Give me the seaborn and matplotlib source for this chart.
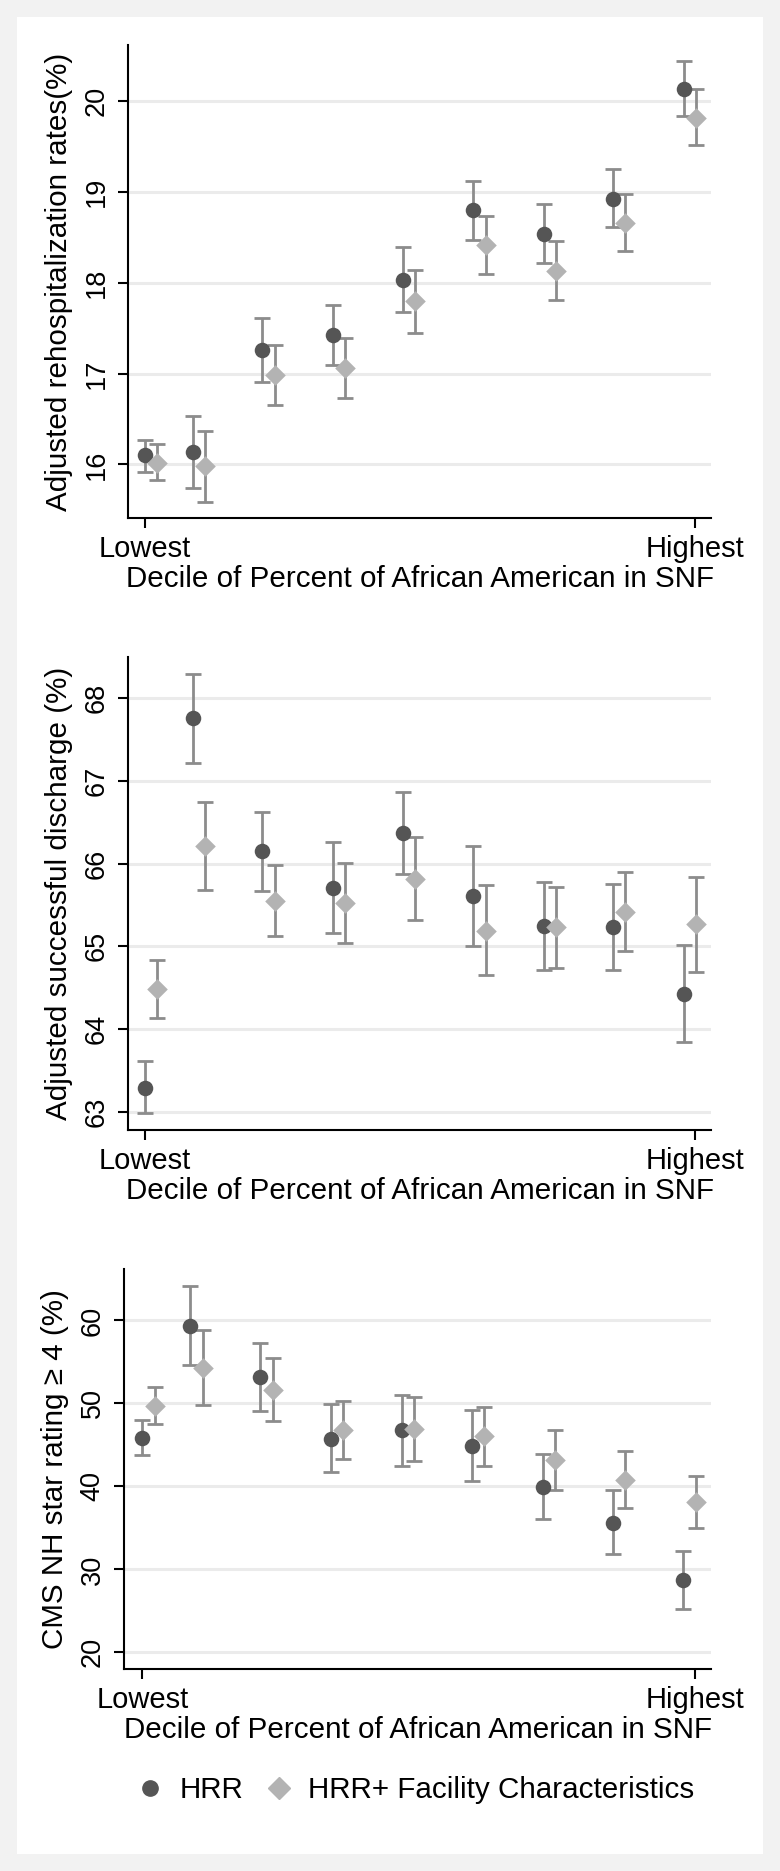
import numpy as np
import pandas as pd
import matplotlib
matplotlib.use("Agg")
import matplotlib.pyplot as plt
import seaborn as sns
from matplotlib.lines import Line2D
from matplotlib.patches import Rectangle

# group positions on the decile axis (Lowest = 1, Highest = 10)
decile_x = [1.0, 1.78, 2.92, 4.07, 5.22, 6.37, 7.52, 8.66, 9.81]
offset = 0.2

# rehospitalization
rehosp_hrr = [16.10, 16.14, 17.26, 17.43, 18.03, 18.80, 18.54, 18.92, 20.14]
rehosp_hrr_lo = [15.92, 15.74, 16.91, 17.09, 17.68, 18.47, 18.22, 18.61, 19.84]
rehosp_hrr_hi = [16.27, 16.53, 17.61, 17.76, 18.39, 19.12, 18.87, 19.25, 20.44]
rehosp_fac = [16.02, 15.98, 16.99, 17.06, 17.80, 18.42, 18.13, 18.66, 19.82]
rehosp_fac_lo = [15.83, 15.59, 16.65, 16.73, 17.45, 18.10, 17.81, 18.35, 19.52]
rehosp_fac_hi = [16.22, 16.37, 17.32, 17.39, 18.14, 18.74, 18.46, 18.98, 20.13]

# successful discharge
disch_hrr = [63.29, 67.76, 66.15, 65.71, 66.37, 65.61, 65.25, 65.23, 64.42]
disch_hrr_lo = [62.99, 67.22, 65.67, 65.16, 65.87, 65.01, 64.72, 64.71, 63.84]
disch_hrr_hi = [63.61, 68.30, 66.62, 66.26, 66.87, 66.21, 65.78, 65.76, 65.02]
disch_fac = [64.48, 66.21, 65.55, 65.52, 65.82, 65.19, 65.23, 65.42, 65.27]
disch_fac_lo = [64.14, 65.68, 65.12, 65.04, 65.32, 64.65, 64.74, 64.94, 64.69]
disch_fac_hi = [64.84, 66.75, 65.99, 66.01, 66.32, 65.74, 65.72, 65.90, 65.84]

# star rating >= 4
star_hrr = [45.80, 59.37, 53.13, 45.75, 46.75, 44.85, 39.91, 35.62, 28.73]
star_hrr_lo = [43.75, 54.63, 49.09, 41.76, 42.50, 40.71, 36.02, 31.83, 25.29]
star_hrr_hi = [47.99, 64.16, 57.23, 49.89, 50.99, 49.19, 43.85, 39.56, 32.23]
star_fac = [49.74, 54.28, 51.64, 46.85, 46.90, 46.05, 43.20, 40.76, 38.11]
star_fac_lo = [47.54, 49.79, 47.94, 43.30, 43.05, 42.46, 39.61, 37.37, 35.02]
star_fac_hi = [52.04, 58.82, 55.43, 50.34, 50.79, 49.59, 46.80, 44.25, 41.26]

series_names = ["HRR", "HRR+ Facility Characteristics"]
COL_HRR = "#555555"
COL_FAC = "#b3b3b3"
COL_CI = "#8c8c8c"
BG = "#f2f2f2"
FS = 21.3


def build_frame(hrr, hrr_lo, hrr_hi, fac, fac_lo, fac_hi):
    rows = []
    for i, x in enumerate(decile_x):
        rows.append({"x": x, "est": hrr[i], "lo": hrr_lo[i], "hi": hrr_hi[i], "model": series_names[0]})
        rows.append({"x": x + offset, "est": fac[i], "lo": fac_lo[i], "hi": fac_hi[i], "model": series_names[1]})
    return pd.DataFrame(rows)


def draw_panel(ax, df, ylabel, yticks, ylim, xlim):
    for t in yticks:
        ax.axhline(t, color="#ebebeb", lw=2.2, zorder=0)
    for model, marker, color, size in [(series_names[0], "o", COL_HRR, 125),
                                       (series_names[1], "D", COL_FAC, 110)]:
        sub = df[df["model"] == model]
        ax.errorbar(sub["x"], sub["est"],
                    yerr=[sub["est"] - sub["lo"], sub["hi"] - sub["est"]],
                    fmt="none", ecolor=COL_CI, elinewidth=2.0, capsize=5.5, capthick=2.0, zorder=2)
        sns.scatterplot(data=sub, x="x", y="est", ax=ax, marker=marker, color=color,
                        s=size, linewidth=0, legend=False, zorder=3)
    ax.set_xlim(*xlim)
    ax.set_ylim(*ylim)
    ax.set_xticks([1, 10])
    ax.set_xticklabels(["Lowest", "Highest"], fontsize=21)
    ax.set_yticks(yticks)
    ax.set_yticklabels([str(t) for t in yticks], fontsize=19.5, rotation=90, va="center")
    ax.tick_params(axis="both", bottom=True, left=True, length=7.2, width=1.5,
                   color="black", labelcolor="black")
    ax.tick_params(axis="x", pad=5)
    ax.tick_params(axis="y", pad=6)
    ax.set_xlabel("Decile of Percent of African American in SNF", fontsize=FS, labelpad=1.5, color="black")
    ax.set_ylabel(ylabel, fontsize=FS, labelpad=8, color="black")
    for s in ["top", "right"]:
        ax.spines[s].set_visible(False)
    for s in ["left", "bottom"]:
        ax.spines[s].set_linewidth(1.5)
        ax.spines[s].set_color("black")
    ax.set_facecolor("white")
    ax.grid(False)


sns.set_theme(style="white")
plt.rcParams["font.family"] = ["Liberation Sans", "DejaVu Sans"]
plt.rcParams["text.color"] = "black"

W, H = 780, 1871
fig = plt.figure(figsize=(W / 100, H / 100), dpi=100, facecolor=BG)
fig.patches.append(Rectangle((17 / W, 1 - 1854 / H), 746 / W, 1837 / H,
                             transform=fig.transFigure, facecolor="white", edgecolor="none", zorder=-5))


def px_axes(l, t, r, b):
    return fig.add_axes([l / W, 1 - b / H, (r - l) / W, (b - t) / H])


ax1 = px_axes(128, 45, 711, 518)
ax2 = px_axes(128, 657, 711, 1130)
ax3 = px_axes(124, 1269, 711, 1669)

draw_panel(ax1, build_frame(rehosp_hrr, rehosp_hrr_lo, rehosp_hrr_hi, rehosp_fac, rehosp_fac_lo, rehosp_fac_hi),
           "Adjusted rehospitalization rates(%)", [16, 17, 18, 19, 20], (15.41, 20.62), (0.72, 10.26))
draw_panel(ax2, build_frame(disch_hrr, disch_hrr_lo, disch_hrr_hi, disch_fac, disch_fac_lo, disch_fac_hi),
           "Adjusted successful discharge (%)", [63, 64, 65, 66, 67, 68], (62.78, 68.50), (0.72, 10.26))
draw_panel(ax3, build_frame(star_hrr, star_hrr_lo, star_hrr_hi, star_fac, star_fac_lo, star_fac_hi),
           "CMS NH star rating \u2265 4 (%)", [20, 30, 40, 50, 60], (18.0, 66.2), (0.70, 10.26))

handles = [Line2D([], [], marker="o", color=COL_HRR, linestyle="none", markersize=11),
           Line2D([], [], marker="D", color=COL_FAC, linestyle="none", markersize=11)]
fig.legend(handles, series_names, loc="center", bbox_to_anchor=(415 / W, 1 - 1790 / H),
           ncol=2, frameon=False, fontsize=FS, handletextpad=0.5, columnspacing=0.7, handlelength=1.0)

fig.savefig("out.png", dpi=100, facecolor=BG)
